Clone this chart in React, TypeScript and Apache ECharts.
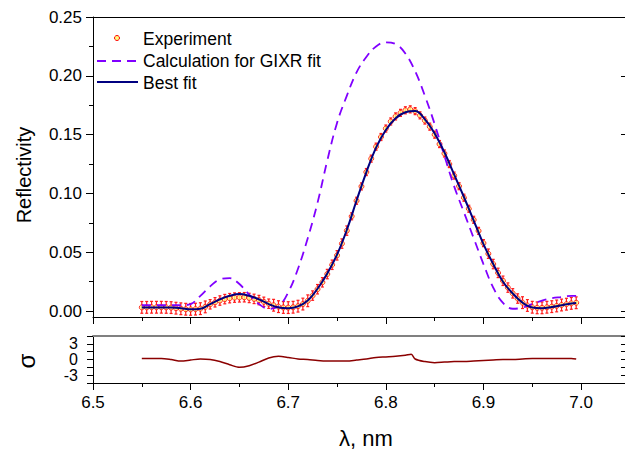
import React, { useEffect, useRef } from 'react';
import * as echarts from 'echarts';

const FONT = '"Liberation Sans", Arial, Helvetica, sans-serif';

// Tick positions
const xMajorTicks = [6.5, 6.6, 6.7, 6.8, 6.9, 7.0];
const xMinorTicks = [6.55, 6.65, 6.75, 6.85, 6.95];
const yMajorTicks = [0, 0.05, 0.1, 0.15, 0.2, 0.25];
const yMinorTicks = [0.025, 0.075, 0.125, 0.175, 0.225];
const sigmaTicks = [-4.5, -3, -1.5, 0, 1.5, 3, 4.5];
const sigmaLabels = [3, 0, -3];

// Experiment (wavelength, reflectivity, error)
const expX = [
  6.550, 6.555, 6.560, 6.565, 6.570, 6.575, 6.580, 6.585, 6.590, 6.595,
  6.600, 6.605, 6.610, 6.615, 6.620, 6.625, 6.630, 6.635, 6.640, 6.645,
  6.650, 6.655, 6.660, 6.665, 6.670, 6.675, 6.680, 6.685, 6.690, 6.695,
  6.700, 6.705, 6.710, 6.715, 6.720, 6.725, 6.730, 6.735, 6.740, 6.745,
  6.750, 6.755, 6.760, 6.765, 6.770, 6.775, 6.780, 6.785, 6.790, 6.795,
  6.800, 6.805, 6.810, 6.815, 6.820, 6.825, 6.830, 6.835, 6.840, 6.845,
  6.850, 6.855, 6.860, 6.865, 6.870, 6.875, 6.880, 6.885, 6.890, 6.895,
  6.900, 6.905, 6.910, 6.915, 6.920, 6.925, 6.930, 6.935, 6.940, 6.945,
  6.950, 6.955, 6.960, 6.965, 6.970, 6.975, 6.980, 6.985, 6.990, 6.995,
];
const expY = [
  0.0032, 0.0032, 0.0033, 0.0033, 0.0033, 0.0032, 0.0030, 0.0025, 0.0020, 0.0016,
  0.0015, 0.0017, 0.0021, 0.0036, 0.0058, 0.0075, 0.0090, 0.0102, 0.0110, 0.0115,
  0.0117, 0.0118, 0.0112, 0.0104, 0.0094, 0.0079, 0.0063, 0.0050, 0.0038, 0.0031,
  0.0030, 0.0033, 0.0042, 0.0060, 0.0088, 0.0132, 0.0186, 0.0245, 0.0315, 0.0394,
  0.0474, 0.0574, 0.0684, 0.0806, 0.0938, 0.1060, 0.1182, 0.1296, 0.1398, 0.1480,
  0.1552, 0.1612, 0.1655, 0.1685, 0.1707, 0.1715, 0.1700, 0.1664, 0.1620, 0.1568,
  0.1500, 0.1420, 0.1340, 0.1250, 0.1152, 0.1062, 0.0964, 0.0870, 0.0776, 0.0682,
  0.0578, 0.0488, 0.0400, 0.0325, 0.0258, 0.0200, 0.0151, 0.0107, 0.0072, 0.0048,
  0.0033, 0.0028, 0.0028, 0.0033, 0.0038, 0.0044, 0.0052, 0.0059, 0.0066, 0.0071,
];
const expErr = [
  0.005, 0.005, 0.005, 0.005, 0.005, 0.005, 0.005, 0.005, 0.005, 0.005,
  0.005, 0.005, 0.005, 0.005, 0.004, 0.004, 0.004, 0.004, 0.004, 0.004,
  0.004, 0.004, 0.004, 0.004, 0.004, 0.004, 0.004, 0.005, 0.005, 0.005,
  0.005, 0.005, 0.005, 0.005, 0.005, 0.004, 0.004, 0.004, 0.004, 0.004,
  0.004, 0.004, 0.004, 0.003, 0.003, 0.003, 0.003, 0.003, 0.003, 0.003,
  0.003, 0.003, 0.003, 0.003, 0.003, 0.003, 0.003, 0.003, 0.003, 0.003,
  0.003, 0.003, 0.003, 0.003, 0.003, 0.003, 0.003, 0.003, 0.003, 0.003,
  0.003, 0.004, 0.004, 0.004, 0.004, 0.004, 0.004, 0.004, 0.005, 0.005,
  0.005, 0.005, 0.005, 0.005, 0.005, 0.005, 0.005, 0.005, 0.005, 0.005,
];

// Calculation for GIXR fit
const calcX = [
  6.55, 6.56, 6.57, 6.58, 6.59, 6.60, 6.61, 6.62, 6.63, 6.64,
  6.65, 6.66, 6.67, 6.68, 6.69, 6.70, 6.71, 6.72, 6.73, 6.74,
  6.75, 6.76, 6.77, 6.78, 6.79, 6.80, 6.81, 6.82, 6.83, 6.84,
  6.85, 6.86, 6.87, 6.88, 6.89, 6.90, 6.91, 6.92, 6.93, 6.94,
  6.95, 6.96, 6.97, 6.98, 6.99, 6.995,
];
const calcY = [
  0.005, 0.005, 0.005, 0.005, 0.005, 0.006, 0.013, 0.021, 0.027, 0.028,
  0.023, 0.014, 0.006, 0.002, 0.004, 0.016, 0.036, 0.062, 0.092, 0.128,
  0.160, 0.183, 0.203, 0.216, 0.225, 0.2285, 0.227, 0.219, 0.204, 0.183,
  0.159, 0.132, 0.106, 0.084, 0.062, 0.040, 0.020, 0.007, 0.002, 0.003,
  0.006, 0.009, 0.011, 0.012, 0.013, 0.013,
];

// Best fit
const fitX = calcX;
const fitY = [
  0.003, 0.003, 0.003, 0.003, 0.0025, 0.0015, 0.002, 0.006, 0.010, 0.013,
  0.0145, 0.013, 0.010, 0.006, 0.003, 0.0025, 0.004, 0.009, 0.019, 0.032,
  0.048, 0.069, 0.094, 0.118, 0.139, 0.154, 0.164, 0.169, 0.170, 0.163,
  0.151, 0.135, 0.116, 0.097, 0.077, 0.057, 0.040, 0.025, 0.015, 0.0072,
  0.003, 0.0025, 0.0035, 0.005, 0.0065, 0.007,
];

// Residuals (sigma)
const resX = [
  6.55, 6.56, 6.57, 6.58, 6.59, 6.60, 6.61, 6.62, 6.63, 6.64,
  6.65, 6.66, 6.67, 6.68, 6.69, 6.70, 6.71, 6.72, 6.73, 6.74,
  6.75, 6.76, 6.77, 6.78, 6.79, 6.80, 6.81, 6.82, 6.826, 6.83,
  6.84, 6.85, 6.86, 6.87, 6.88, 6.89, 6.90, 6.91, 6.92, 6.93,
  6.94, 6.95, 6.96, 6.97, 6.98, 6.99, 6.995,
];
const resY = [
  0.2, 0.2, 0.2, 0.0, -0.3, -0.1, 0.1, 0.0, -0.4, -1.0,
  -1.5, -1.2, -0.5, 0.3, 0.6, 0.4, 0.1, 0.0, -0.2, -0.3,
  -0.3, -0.3, -0.1, 0.1, 0.4, 0.5, 0.6, 0.8, 1.0, 0.1,
  -0.4, -0.6, -0.5, -0.4, -0.4, -0.3, -0.2, -0.1, 0.0, 0.0,
  0.1, 0.2, 0.2, 0.2, 0.2, 0.2, 0.1,
];

const X_MIN = 6.5;
const X_MAX = 7.045;

const fmtX = (v: number) => (Math.abs(v * 10 - Math.round(v * 10)) < 1e-6 ? v.toFixed(1) : '');

export default function App() {
  const ref = useRef<HTMLDivElement>(null);
  useEffect(() => {
    if (!ref.current) return;
    const chart = echarts.init(ref.current, undefined, { renderer: 'svg' });
    const black = '#000';
    const noSplit = { show: false };
    const baseX = (gridIndex: number) => ({
      type: 'value', gridIndex, min: X_MIN, max: X_MAX, splitLine: noSplit,
    });
    const lineOf = (show: boolean, color = black, width = 1) => ({
      show, onZero: false, lineStyle: { color, width },
    });
    // one label-only axis per sigma label so none gets hidden as overlapping
    const sigmaLabelAxes = sigmaLabels.map((v) => ({
      type: 'value', gridIndex: 1, min: -4.5, max: 4.5, position: 'left', splitLine: noSplit,
      axisLine: lineOf(false), axisTick: { show: false },
      axisLabel: { show: true, customValues: [v], formatter: (t: number) => String(t),
        fontSize: 16, color: black, fontFamily: FONT, margin: 15 },
    }));
    const option: any = {
      animation: false,
      backgroundColor: '#fff',
      grid: [
        { left: 93, top: 17, width: 533, height: 300 },
        { left: 93, top: 336, width: 533, height: 47 },
      ],
      xAxis: [
        { ...baseX(0), position: 'bottom', axisLine: lineOf(true),
          axisTick: { show: true, length: 7, customValues: xMajorTicks, lineStyle: { color: black } },
          axisLabel: { show: false } },
        { ...baseX(0), position: 'bottom', axisLine: lineOf(false),
          axisTick: { show: true, length: 4, customValues: xMinorTicks, lineStyle: { color: black } },
          axisLabel: { show: false } },
        { ...baseX(0), position: 'top', axisLine: lineOf(true),
          axisTick: { show: false }, axisLabel: { show: false } },
        { ...baseX(1), position: 'bottom', axisLine: lineOf(true),
          axisTick: { show: true, length: 7, customValues: xMajorTicks, lineStyle: { color: black } },
          axisLabel: { show: true, interval: 0, customValues: xMajorTicks, formatter: fmtX, fontSize: 17, color: black, fontFamily: FONT, margin: 11 } },
        { ...baseX(1), position: 'bottom', axisLine: lineOf(false),
          axisTick: { show: true, length: 4, customValues: xMinorTicks, lineStyle: { color: black } },
          axisLabel: { show: false } },
        { ...baseX(1), position: 'top', axisLine: lineOf(true, '#808080', 2),
          axisTick: { show: false }, axisLabel: { show: false } },
      ],
      yAxis: [
        { type: 'value', gridIndex: 0, min: -0.005, max: 0.25, position: 'left', splitLine: noSplit,
          axisLine: lineOf(true),
          axisTick: { show: true, length: 7, customValues: yMajorTicks, lineStyle: { color: black } },
          axisLabel: { show: true, interval: 0, customValues: yMajorTicks, formatter: (v: number) => v.toFixed(2), fontSize: 17, color: black, fontFamily: FONT, margin: 11 } },
        { type: 'value', gridIndex: 0, min: -0.005, max: 0.25, position: 'left', splitLine: noSplit,
          axisLine: lineOf(false),
          axisTick: { show: true, length: 4, customValues: yMinorTicks, lineStyle: { color: black } },
          axisLabel: { show: false } },
        { type: 'value', gridIndex: 0, min: -0.005, max: 0.25, position: 'right', splitLine: noSplit,
          axisLine: lineOf(false),
          axisTick: { show: true, inside: true, length: 4, customValues: yMajorTicks, lineStyle: { color: black } },
          axisLabel: { show: false } },
        { type: 'value', gridIndex: 1, min: -4.5, max: 4.5, position: 'left', splitLine: noSplit,
          axisLine: lineOf(true),
          axisTick: { show: true, length: 6, customValues: sigmaTicks, lineStyle: { color: black } },
          axisLabel: { show: false } },
        { type: 'value', gridIndex: 1, min: -4.5, max: 4.5, position: 'right', splitLine: noSplit,
          axisLine: lineOf(false),
          axisTick: { show: true, inside: true, length: 4, customValues: sigmaTicks, lineStyle: { color: black } },
          axisLabel: { show: false } },
        ...sigmaLabelAxes,
      ],
      graphic: [
        { type: 'text', x: 24, y: 175, rotation: Math.PI / 2,
          style: { text: 'Reflectivity', fontSize: 20, fontFamily: FONT, fill: black, align: 'center', verticalAlign: 'middle' } },
        { type: 'text', x: 26, y: 361, rotation: Math.PI / 2,
          style: { text: 'σ', fontSize: 24, fontFamily: FONT, fill: black, align: 'center', verticalAlign: 'middle' } },
        { type: 'text', x: 366, y: 438,
          style: { text: 'λ, nm', fontSize: 22, fontFamily: FONT, fill: black, align: 'center', verticalAlign: 'middle' } },
        { type: 'circle', shape: { cx: 117, cy: 38, r: 2.5 }, style: { fill: '#ffff80', stroke: '#ff0000', lineWidth: 1 } },
        { type: 'text', x: 143, y: 39, style: { text: 'Experiment', fontSize: 17.5, fontFamily: FONT, fill: black, align: 'left', verticalAlign: 'middle' } },
        { type: 'line', shape: { x1: 97, y1: 61, x2: 138, y2: 61 }, style: { stroke: '#8000ff', lineWidth: 1.8, lineDash: [9, 6] } },
        { type: 'text', x: 143, y: 61, style: { text: 'Calculation for GIXR fit', fontSize: 17.5, fontFamily: FONT, fill: black, align: 'left', verticalAlign: 'middle' } },
        { type: 'line', shape: { x1: 97, y1: 82, x2: 138, y2: 82 }, style: { stroke: '#000080', lineWidth: 2 } },
        { type: 'text', x: 143, y: 83, style: { text: 'Best fit', fontSize: 17.5, fontFamily: FONT, fill: black, align: 'left', verticalAlign: 'middle' } },
      ],
      series: [
        {
          type: 'custom', name: 'Error', xAxisIndex: 0, yAxisIndex: 0,
          data: expX.map((x, i) => [x, expY[i], expErr[i]]),
          encode: { x: 0, y: 1 },
          renderItem: (params: any, api: any) => {
            const x = api.value(0), y = api.value(1), e = api.value(2);
            const top = api.coord([x, y + e]);
            const bot = api.coord([x, y - e]);
            const c = '#ff1a1a';
            const st = { stroke: c, lineWidth: 1.2 };
            return {
              type: 'group',
              children: [
                { type: 'line', shape: { x1: top[0], y1: top[1], x2: bot[0], y2: bot[1] }, style: st },
                { type: 'line', shape: { x1: top[0] - 1.5, y1: top[1], x2: top[0] + 1.5, y2: top[1] }, style: st },
                { type: 'line', shape: { x1: bot[0] - 1.5, y1: bot[1], x2: bot[0] + 1.5, y2: bot[1] }, style: st },
              ],
            };
          },
          z: 2,
        },
        {
          type: 'scatter', name: 'Experiment', xAxisIndex: 0, yAxisIndex: 0,
          data: expX.map((x, i) => [x, expY[i]]),
          symbol: 'circle', symbolSize: 5,
          itemStyle: { color: '#ffff80', borderColor: '#ff0000', borderWidth: 1 },
          z: 3,
        },
        {
          type: 'line', name: 'Calculation for GIXR fit', xAxisIndex: 0, yAxisIndex: 0,
          data: calcX.map((x, i) => [x, calcY[i]]),
          showSymbol: false, symbol: 'none', smooth: 0.4,
          lineStyle: { color: '#8000ff', width: 1.8, type: [9, 6] },
          z: 4,
        },
        {
          type: 'line', name: 'Best fit', xAxisIndex: 0, yAxisIndex: 0,
          data: fitX.map((x, i) => [x, fitY[i]]),
          showSymbol: false, symbol: 'none', smooth: 0.4,
          lineStyle: { color: '#000080', width: 2 },
          z: 5,
        },
        {
          type: 'line', name: 'Residual', xAxisIndex: 3, yAxisIndex: 3,
          data: resX.map((x, i) => [x, resY[i]]),
          showSymbol: false, symbol: 'none', smooth: 0.3,
          lineStyle: { color: '#8b0000', width: 1.5 },
          z: 5,
        },
      ],
    };
    chart.setOption(option);
    return () => chart.dispose();
  }, []);
  return (
    <div
      ref={ref}
      style={{ position: 'fixed', left: 0, top: 0, width: 625, height: 453, background: '#fff' }}
    />
  );
}
